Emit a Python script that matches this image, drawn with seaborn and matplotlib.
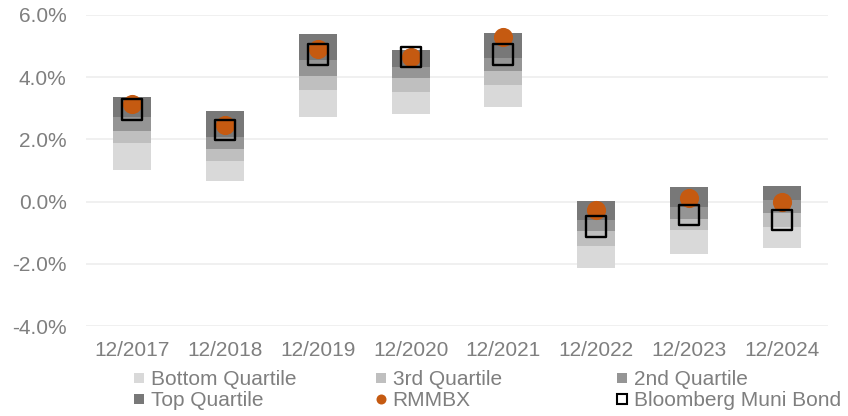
import numpy as np
import pandas as pd
import seaborn as sns
import matplotlib.pyplot as plt
from matplotlib.lines import Line2D
from matplotlib.ticker import FuncFormatter

# quartile ranges of the peer group (in %), plus fund and index
periods = ["12/2017", "12/2018", "12/2019", "12/2020", "12/2021", "12/2022", "12/2023", "12/2024"]
low = [1.02, 0.67, 2.71, 2.81, 3.05, -2.13, -1.67, -1.48]
q25 = [1.89, 1.29, 3.59, 3.52, 3.75, -1.43, -0.92, -0.82]
median = [2.28, 1.70, 4.05, 3.97, 4.19, -0.93, -0.55, -0.38]
q75 = [2.72, 2.07, 4.55, 4.32, 4.63, -0.58, -0.17, 0.05]
high = [3.37, 2.91, 5.40, 4.88, 5.41, 0.01, 0.46, 0.49]
rmmbx = [3.14, 2.45, 4.90, 4.64, 5.28, -0.28, 0.12, 0.00]
muni = [2.96, 2.29, 4.73, 4.64, 4.73, -0.80, -0.42, -0.59]

text_gray = "#7f7f7f"
orange = "#c55a11"

sns.set_theme(style="white")
plt.rcParams["font.family"] = ["Liberation Sans", "DejaVu Sans"]

fig = plt.figure(figsize=(8.48, 4.16), dpi=100)
ax = fig.add_axes([86 / 848, 1 - 326 / 416, 742 / 848, 311 / 416])

# floating stacked bars, one segment per quartile
segments = [
    ("Bottom Quartile", low, q25, "#d9d9d9"),
    ("3rd Quartile", q25, median, "#bfbfbf"),
    ("2nd Quartile", median, q75, "#959595"),
    ("Top Quartile", q75, high, "#787878"),
]
for name, lo, hi, color in segments:
    seg = pd.DataFrame({"period": periods, "height": np.array(hi) - np.array(lo)})
    sns.barplot(data=seg, x="period", y="height", bottom=np.array(lo),
                color=color, saturation=1, width=0.41, errorbar=None,
                linewidth=0, zorder=2, ax=ax)

pts = pd.DataFrame({"period": periods, "RMMBX": rmmbx, "Muni": muni})
sns.scatterplot(data=pts, x="period", y="RMMBX", color=orange, s=190,
                linewidth=0, zorder=3, ax=ax)
sns.scatterplot(data=pts, x="period", y="Muni", marker="s", s=210,
                facecolor="none", edgecolor="black", linewidth=1.7,
                zorder=4, ax=ax)

ax.set_xlim(-0.5, len(periods) - 0.5)
ax.set_ylim(-4, 6)
ax.set_yticks(np.arange(-4, 7, 2))
ax.yaxis.set_major_formatter(FuncFormatter(lambda v, _: f"{v:.1f}%"))
ax.set_xlabel("")
ax.set_ylabel("")
ax.yaxis.grid(True, color="#eeeeee", linewidth=1.2)
ax.set_axisbelow(True)
sns.despine(ax=ax, left=True, bottom=True)
ax.tick_params(axis="both", length=0, labelsize=15, labelcolor=text_gray)
ax.tick_params(axis="x", pad=11)
ax.tick_params(axis="y", pad=14)


def square(color, edge=None, size=7.5, ew=0):
    return Line2D([], [], linestyle="none", marker="s", markersize=size,
                  markerfacecolor=color, markeredgecolor=edge or color,
                  markeredgewidth=ew)


dot = Line2D([], [], linestyle="none", marker="o", markersize=7.2,
             markerfacecolor=orange, markeredgewidth=0)

legend_cols = [
    (132, [square("#d9d9d9"), square("#787878")], ["Bottom Quartile", "Top Quartile"]),
    (374, [square("#bfbfbf"), dot], ["3rd Quartile", "RMMBX"]),
    (615, [square("#959595"), square("none", "black", 6.5, 1.5)], ["2nd Quartile", "Bloomberg Muni Bond"]),
]
for x0, handles, labels in legend_cols:
    fig.legend(handles=handles, labels=labels, loc="upper left",
               bbox_to_anchor=(x0 / 848, 1 - 370 / 416), frameon=False,
               fontsize=15, labelcolor=text_gray, handlelength=0.7,
               handletextpad=0.2, labelspacing=0.1, borderpad=0,
               borderaxespad=0)

fig.savefig("out.png", dpi=100)
